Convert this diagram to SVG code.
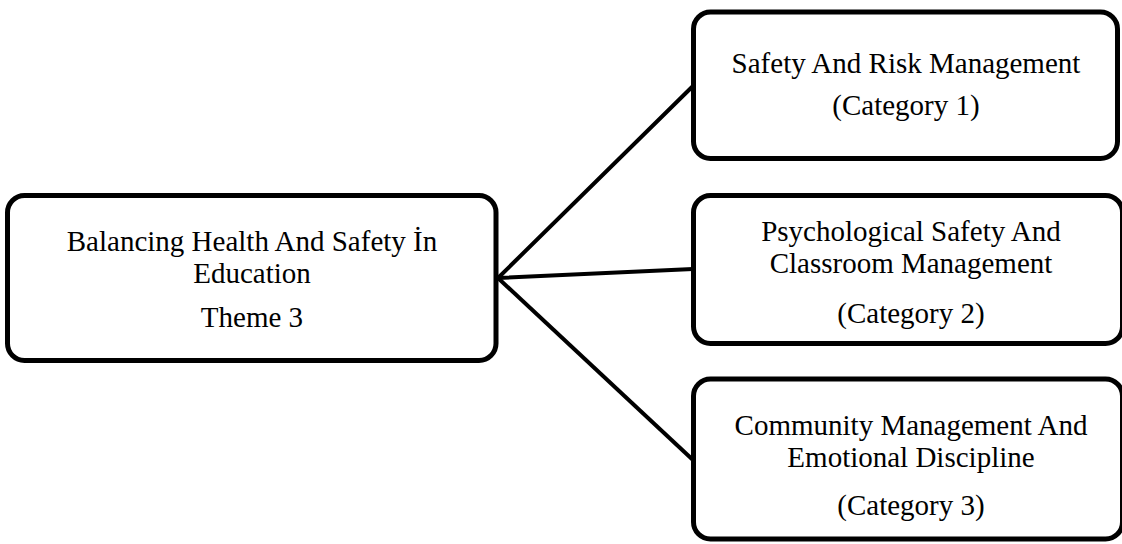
<svg xmlns="http://www.w3.org/2000/svg" width="1122" height="544" viewBox="0 0 1122 544">
  <style>
    .box { fill: #ffffff; stroke: #000000; stroke-width: 5; }
    .link { stroke: #000000; stroke-width: 4; fill: none; stroke-linecap: round; }
    .label { font-family: "Liberation Serif", "Times New Roman", serif; font-size: 29px; fill: #000000; text-anchor: middle; }
  </style>
  <rect width="1122" height="544" fill="#ffffff"/>

  <!-- connectors from the theme to each category -->
  <g id="connectors">
    <line class="link" x1="498" y1="278" x2="693" y2="86"/>
    <line class="link" x1="498" y1="278" x2="693" y2="269"/>
    <line class="link" x1="498" y1="278" x2="693" y2="460"/>
  </g>

  <!-- theme -->
  <g id="theme">
    <rect class="box" x="7.5" y="195.5" width="488.5" height="165" rx="17"/>
    <text class="label" x="252" y="251">Balancing Health And Safety İn</text>
    <text class="label" x="252" y="283">Education</text>
    <text class="label" x="252" y="327">Theme 3</text>
  </g>

  <!-- category 1 -->
  <g id="category1">
    <rect class="box" x="693.5" y="12" width="424" height="146.5" rx="17"/>
    <text class="label" x="906" y="73">Safety And Risk Management</text>
    <text class="label" x="906" y="115">(Category 1)</text>
  </g>

  <!-- category 2 -->
  <g id="category2">
    <rect class="box" x="693.5" y="195.5" width="429" height="148" rx="17"/>
    <text class="label" x="911" y="241">Psychological Safety And</text>
    <text class="label" x="911" y="273">Classroom Management</text>
    <text class="label" x="911" y="323">(Category 2)</text>
  </g>

  <!-- category 3 -->
  <g id="category3">
    <rect class="box" x="693.5" y="379" width="429" height="160" rx="17"/>
    <text class="label" x="911" y="435">Community Management And</text>
    <text class="label" x="911" y="467">Emotional Discipline</text>
    <text class="label" x="911" y="515">(Category 3)</text>
  </g>
</svg>
